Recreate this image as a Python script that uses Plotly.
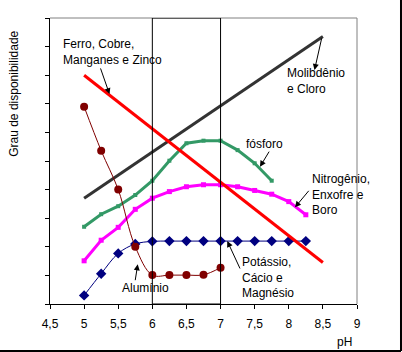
import plotly.graph_objects as go

# ---- data ----
ph_line = [5, 8.5]
ferro = [8.0, 1.45]          # Ferro, Cobre, Manganes e Zinco
molib = [3.7, 9.35]          # Molibdênio e Cloro

ph_fos = [5, 5.25, 5.5, 5.75, 6, 6.25, 6.5, 6.75, 7, 7.25, 7.5, 7.75]
fosforo = [2.70, 3.14, 3.42, 3.81, 4.31, 5.01, 5.62, 5.71, 5.71, 5.38, 4.92, 4.31]

ph_nit = [5, 5.25, 5.5, 5.75, 6, 6.25, 6.5, 6.75, 7, 7.25, 7.5, 7.75, 8, 8.25]
nitro = [1.51, 2.23, 2.68, 3.31, 3.70, 3.93, 4.10, 4.17, 4.17, 4.10, 3.97, 3.84, 3.58, 3.12]

ph_pot = [5, 5.25, 5.5, 5.75, 6, 6.25, 6.5, 6.75, 7, 7.25, 7.5, 7.75, 8, 8.25]
potassio = [0.30, 1.06, 1.77, 2.10, 2.19, 2.2, 2.2, 2.2, 2.2, 2.2, 2.2, 2.2, 2.2, 2.2]

ph_al = [5, 5.25, 5.5, 5.75, 6, 6.25, 6.5, 6.75, 7]
aluminio = [6.9, 5.36, 4.0, 2.0, 1.01, 1.01, 1.01, 1.02, 1.27]

x_ticks = [4.5, 5, 5.5, 6, 6.5, 7, 7.5, 8, 8.5, 9]

FONT = "Liberation Sans, Arial, sans-serif"

fig = go.Figure()
fig.add_trace(go.Scatter(x=ph_line, y=molib, mode="lines",
                         line=dict(color="#333333", width=3)))
fig.add_trace(go.Scatter(x=ph_fos, y=fosforo, mode="lines+markers",
                         line=dict(color="#339966", width=3),
                         marker=dict(symbol="square", size=4, color="#339966")))
fig.add_trace(go.Scatter(x=ph_nit, y=nitro, mode="lines+markers",
                         line=dict(color="#FF00FF", width=3),
                         marker=dict(symbol="square", size=5, color="#FF00FF")))
fig.add_trace(go.Scatter(x=ph_pot, y=potassio, mode="lines+markers",
                         line=dict(color="#000080", width=1, shape="spline"),
                         marker=dict(symbol="diamond", size=8, color="#000080")))
fig.add_trace(go.Scatter(x=ph_al, y=aluminio, mode="lines+markers",
                         line=dict(color="#800000", width=1, shape="spline"),
                         marker=dict(symbol="circle", size=8, color="#800000")))
fig.add_trace(go.Scatter(x=ph_line, y=ferro, mode="lines",
                         line=dict(color="#FF0000", width=3)))

# text labels (left aligned, centered vertically)
labels = [
    ("Ferro, Cobre,<br>Manganes e Zinco", 4.665, 8.81),
    ("Molibdênio<br>e Cloro", 7.945, 7.79),
    ("fósforo", 7.345, 5.59),
    ("Nitrogênio,<br>Enxofre e<br>Boro", 8.315, 3.82),
    ("Potássio,<br>Cácio e<br>Magnésio", 7.285, 0.92),
    ("Alumínio", 5.525, 0.55),
]
for t, x, y in labels:
    fig.add_annotation(x=x, y=y, text=t, showarrow=False, xanchor="left",
                       yanchor="middle", align="left",
                       font=dict(family=FONT, size=12, color="black"))

# arrows: (tail x, tail y, head x, head y)
arrows = [
    (5.233, 8.29, 5.372, 7.34),
    (8.487, 9.34, 8.377, 8.18),
    (7.725, 5.38, 7.578, 4.80),
    (8.311, 4.01, 8.091, 3.38),
    (7.295, 1.19, 7.099, 2.20),
    (5.746, 0.78, 5.786, 1.39),
]
for tx, ty, hx, hy in arrows:
    fig.add_annotation(x=hx, y=hy, ax=tx, ay=ty, axref="x", ayref="y",
                       xref="x", yref="y", text="", showarrow=True,
                       arrowhead=2, arrowsize=1.2, arrowwidth=1,
                       arrowcolor="black", standoff=0, startstandoff=0)

fig.add_annotation(x=0.958, y=-0.132, xref="paper", yref="paper", text="pH",
                   xanchor="center", yanchor="middle", showarrow=False,
                   font=dict(family=FONT, size=12, color="black"))
fig.add_annotation(x=-0.1195, y=0.736, xref="paper", yref="paper",
                   text="Grau de disponibilidade", textangle=-90, showarrow=False,
                   xanchor="center", yanchor="middle",
                   font=dict(family=FONT, size=12, color="black"))

# plot border (gray top/right), pH 6-7 box, outer chart frame
fig.add_shape(type="line", xref="paper", yref="paper", x0=0, x1=1, y0=1, y1=1,
              line=dict(color="#808080", width=1))
fig.add_shape(type="line", xref="paper", yref="paper", x0=1, x1=1, y0=0, y1=1,
              line=dict(color="#808080", width=1))
fig.add_shape(type="rect", xref="x", yref="y", x0=6, x1=7, y0=0, y1=10,
              line=dict(color="black", width=1))
fig.add_shape(type="line", xref="paper", yref="paper", x0=1.1433, x1=1.1433,
              y0=-0.1643, y1=1.1, line=dict(color="black", width=2))
fig.add_shape(type="line", xref="paper", yref="paper", x0=-0.2, x1=1.1433,
              y0=-0.1643, y1=-0.1643, line=dict(color="black", width=2))

fig.update_layout(
    width=402, height=352,
    margin=dict(l=50, r=45, t=18, b=48),
    paper_bgcolor="white", plot_bgcolor="white",
    showlegend=False, separators=", ",
    font=dict(family=FONT, size=12, color="black"),
    xaxis=dict(range=[4.5, 9], tickvals=x_ticks, tickformat=".1~f",
               ticks="outside", ticklen=4, tickcolor="black",
               ticklabelstandoff=5,
               showline=True, linecolor="black", linewidth=1,
               showgrid=False, zeroline=False, fixedrange=True),
    yaxis=dict(range=[0, 10], dtick=1, showticklabels=False,
               ticks="outside", ticklen=4, tickcolor="black",
               showline=True, linecolor="black", linewidth=1,
               showgrid=False, zeroline=False, fixedrange=True),
)

fig.write_html("out.html")
